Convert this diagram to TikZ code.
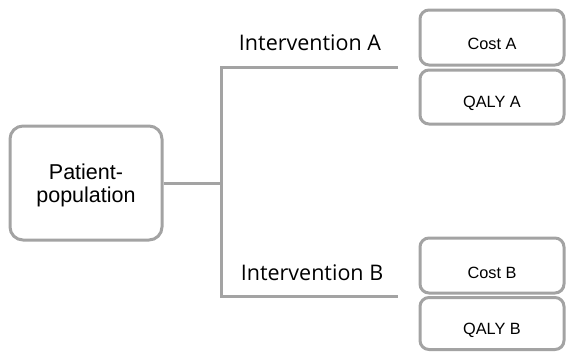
\documentclass[tikz,border=0pt]{standalone}
\usepackage{fontspec}
\setmainfont{Liberation Sans}
\newfontfamily\intfont{Open Sans}
\definecolor{linegray}{RGB}{163,163,163}
\begin{document}
\begin{tikzpicture}[x=1pt,y=-1pt,
  box/.style={draw=linegray,line width=3pt,rounded corners=9pt,fill=white,inner sep=0pt},
  conn/.style={draw=linegray,line width=3pt},
  lbl/.style={inner sep=0pt,font=\intfont\fontsize{21.5}{24}\selectfont},
  small/.style={inner sep=0pt,font=\fontsize{16.3}{18}\selectfont}]
\useasboundingbox (0,0) rectangle (567,351);
% patient box
\node[box,rounded corners=13pt,minimum width=152pt,minimum height=114pt] (pat) at (86,183) {};
\node[inner sep=0pt,align=center,font=\fontsize{21.5}{23}\selectfont] (pattxt) at (86,185) {Patient-\\population};
% connectors
\coordinate (jA) at (221,67);
\coordinate (jB) at (221,296);
\coordinate (eA) at (398,67);
\coordinate (eB) at (398,296);
\draw[conn] (eA) -- (jA) -- (jB) -- (eB);
\draw[conn] (pat.east) -- (pat.east -| jA);
% labels
\node[lbl] (intA) at (310,43) {Intervention A};
\node[lbl] (intB) at (312,273) {Intervention B};
% outcome boxes
\node[box,minimum width=144pt,minimum height=55pt] (costA) at (492,37.5) {};
\node[small] at ([yshift=-6pt]costA.center) {Cost A};
\node[box,minimum width=144pt,minimum height=54pt] (qalyA) at (492,97) {};
\node[small] at ([yshift=-6pt]qalyA.center) {QALY A};
\node[box,minimum width=144pt,minimum height=55pt] (costB) at (492,265.5) {};
\node[small] at ([yshift=-7pt]costB.center) {Cost B};
\node[box,minimum width=144pt,minimum height=52pt] (qalyB) at (492,323.5) {};
\node[small] at ([yshift=-7pt]qalyB.center) {QALY B};
\end{tikzpicture}
\end{document}
